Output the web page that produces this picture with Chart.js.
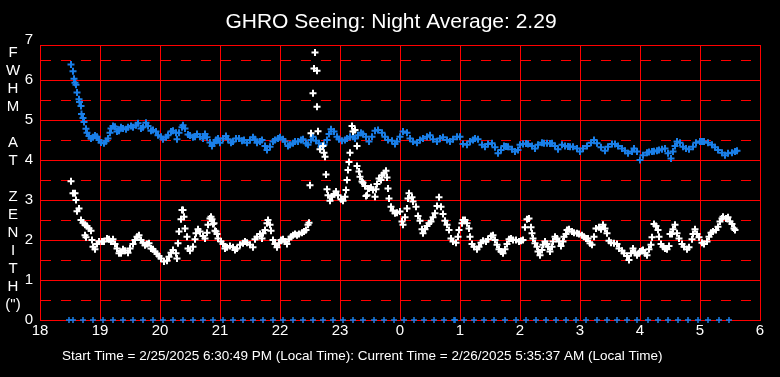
<!DOCTYPE html>
<html>
<head>
<meta charset="utf-8">
<script src="https://cdn.jsdelivr.net/npm/chart.js@4.4.1/dist/chart.umd.min.js"></script>
<style>
  html, body { margin: 0; padding: 0; background: #000; }
  #wrap { width: 780px; height: 377px; }
</style>
</head>
<body>
<div id="wrap"><canvas id="c" width="780" height="377"></canvas></div>
<script>
// ---- DATA (time in minutes after 18:00 local, FWHM in arcsec) ----
const chartTitle = 'GHRO Seeing: Night Average: 2.29';
const footerText = 'Start Time = 2/25/2025 6:30:49 PM (Local Time): Current Time = 2/26/2025 5:35:37 AM (Local Time)';
const yTitleLines = ['F', 'W', 'H', 'M', '', 'A', 'T', '', 'Z', 'E', 'N', 'I', 'T', 'H', '(")'];
const xTickMinutes = [0, 60, 120, 180, 240, 300, 360, 420, 480, 540, 600, 660, 720];
const yTickValues = [0, 1, 2, 3, 4, 5, 6];
const yHalfLines = [0.5, 1.5, 2.5, 3.5, 4.5, 5.5, 6.5];

const blueSeeing = [
[31,6.39],[33,6.22],[34,6.03],[35,5.93],[36,5.88],[37,5.69],[39,5.52],[39.5,5.45],[41,5.35],[41.5,5.15],[43,5.05],[44,4.95],[46,4.78],[47,4.68],[49,4.6],[51,4.54],[53,4.57],[55,4.61],[57,4.58],[59,4.5],[61,4.44],[64,4.42],[66,4.47],[68,4.54],[70,4.68],[71,4.79],[73,4.85],[75,4.83],[77,4.71],[79,4.73],[81,4.82],[83,4.79],[86,4.77],[88,4.82],[91,4.85],[93,4.82],[96,4.87],[98,4.92],[101,4.79],[103,4.82],[106,4.93],[108,4.85],[111,4.73],[113,4.75],[116,4.71],[118,4.62],[121,4.58],[123,4.52],[126,4.57],[128,4.62],[131,4.71],[133,4.73],[136,4.68],[137,4.52],[139,4.68],[142,4.82],[143,4.87],[145,4.79],[148,4.64],[150,4.61],[153,4.57],[155,4.58],[157,4.65],[160,4.58],[163,4.54],[165,4.65],[167,4.57],[170,4.44],[172,4.35],[174,4.42],[176,4.5],[178,4.54],[180,4.43],[183,4.54],[186,4.6],[188,4.52],[191,4.43],[193,4.46],[196,4.54],[199,4.54],[202,4.48],[204,4.5],[207,4.43],[210,4.5],[213,4.57],[215,4.52],[217,4.43],[220,4.46],[222,4.5],[225,4.35],[227,4.25],[230,4.33],[233,4.46],[235,4.5],[238,4.54],[240,4.57],[243,4.52],[245,4.46],[248,4.35],[250,4.38],[253,4.42],[255,4.46],[258,4.46],[261,4.5],[263,4.52],[266,4.42],[268,4.38],[271,4.5],[273,4.58],[276,4.48],[279,4.42],[281,4.33],[284,4.38],[287,4.5],[289,4.65],[291,4.77],[294,4.71],[297,4.58],[299,4.52],[302,4.48],[305,4.5],[307,4.54],[310,4.58],[313,4.58],[315,4.54],[318,4.62],[321,4.68],[323,4.65],[326,4.58],[329,4.46],[332,4.58],[335,4.73],[338,4.75],[342,4.68],[345,4.58],[348,4.5],[352,4.48],[355,4.4],[357,4.46],[360,4.58],[363,4.71],[367,4.68],[370,4.54],[373,4.46],[377,4.43],[380,4.5],[383,4.54],[387,4.58],[390,4.62],[393,4.52],[397,4.46],[400,4.54],[403,4.57],[407,4.5],[410,4.46],[413,4.52],[417,4.58],[420,4.58],[423,4.4],[427,4.38],[430,4.46],[433,4.5],[435,4.54],[438,4.52],[442,4.38],[445,4.33],[448,4.4],[452,4.42],[455,4.32],[458,4.17],[461,4.25],[464,4.35],[466,4.34],[468,4.33],[472,4.27],[475,4.21],[478,4.25],[480,4.38],[483,4.4],[486,4.41],[488,4.4],[492,4.35],[495,4.29],[498,4.38],[502,4.43],[504,4.42],[507,4.42],[510,4.41],[512,4.42],[515,4.35],[518,4.27],[522,4.38],[525,4.35],[528,4.34],[530,4.33],[533,4.33],[537,4.29],[540,4.21],[543,4.29],[547,4.35],[551,4.43],[554,4.5],[557,4.42],[561,4.32],[565,4.23],[568,4.33],[572,4.4],[575,4.4],[578,4.35],[582,4.29],[585,4.23],[588,4.17],[592,4.21],[594,4.29],[597,4.21],[600,4.0],[603,4.12],[607,4.18],[609,4.2],[612,4.21],[614,4.22],[617,4.23],[619,4.25],[622,4.27],[625,4.29],[628,4.17],[631,4.04],[633,4.21],[635,4.35],[637,4.46],[640,4.43],[643,4.33],[646,4.29],[649,4.27],[653,4.33],[656,4.43],[660,4.46],[662,4.46],[664,4.46],[668,4.43],[672,4.38],[675,4.32],[678,4.25],[682,4.18],[685,4.12],[688,4.17],[692,4.18],[695,4.21],[697,4.23]
];

const whiteSeeing = [
[31,3.47],[33,3.17],[35,3.17],[36,3.0],[37,2.72],[39,2.79],[41,2.5],[43,2.43],[45,2.38],[45,2.12],[46,2.07],[47,2.35],[49,2.29],[51,2.23],[52,2.0],[53,1.83],[55,1.77],[57,1.9],[59,1.96],[62,1.96],[64,1.96],[67,2.04],[69,2.02],[71,1.96],[73,2.02],[75,1.9],[77,1.79],[79,1.67],[81,1.67],[83,1.77],[85,1.73],[88,1.68],[90,1.79],[93,1.9],[95,2.0],[97,2.08],[99,2.12],[101,2.0],[103,1.93],[105,1.87],[107,1.9],[109,1.92],[111,1.79],[113,1.77],[115,1.71],[117,1.65],[119,1.6],[121,1.54],[124,1.46],[127,1.48],[129,1.58],[131,1.68],[133,1.75],[136,1.67],[137,1.54],[138,1.92],[139,2.21],[141,2.52],[142,2.75],[143,2.75],[144,2.58],[145,2.29],[147,2.08],[148,1.79],[150,1.73],[153,1.83],[155,2.02],[156,2.17],[158,2.27],[160,2.21],[163,2.1],[165,2.04],[167,2.18],[168,2.38],[170,2.54],[171,2.58],[172,2.52],[173,2.4],[174,2.42],[175,2.23],[176,2.21],[177,2.15],[178,2.04],[181,1.96],[183,1.9],[185,1.79],[187,1.82],[190,1.85],[193,1.82],[195,1.75],[197,1.79],[200,1.88],[203,1.92],[205,1.96],[207,1.93],[210,1.88],[213,1.82],[215,2.02],[217,2.08],[220,2.15],[222,2.04],[223,2.17],[225,2.25],[227,2.42],[228,2.5],[230,2.38],[231,2.23],[233,2.0],[235,1.9],[237,1.82],[239,1.92],[241,2.0],[243,2.02],[245,1.96],[247,1.9],[249,2.02],[251,2.08],[253,2.12],[255,2.15],[257,2.12],[259,2.15],[262,2.18],[264,2.21],[266,2.25],[268,2.38],[269,2.43],
[270,3.37],[271,4.67],[273,5.67],[274,6.29],[275,6.69],[277,6.23],[277,5.33],[278,4.72],[280,4.27],[283,4.35],[284,4.18],[285,4.08],[286,3.64],[287,3.27],[288,3.12],[290,2.98],[292,3.08],[294,3.15],[296,3.21],[298,3.12],[301,3.02],[303,2.98],[305,3.08],[306,3.25],[307,3.5],[308,3.75],[309,3.95],[310,4.18],[312,4.85],[313,4.71],[315,4.75],[317,4.35],[317,3.85],[319,3.71],[320,3.58],[322,3.46],[323,3.43],[325,3.35],[326,3.1],[327,3.12],[328,3.29],[329,3.29],[331,3.32],[333,3.25],[335,3.08],[336,3.27],[337,3.4],[339,3.54],[341,3.5],[342,3.62],[344,3.67],[346,3.73],[347,3.56],[348,3.29],[349,3.04],[351,2.83],[353,2.73],[355,2.67],[357,2.68],[360,2.71],[362,2.46],[363,2.38],[365,2.57],[367,2.79],[368,3.04],[369,3.17],[372,3.07],[373,2.96],[376,2.83],[378,2.6],[380,2.48],[382,2.27],[383,2.17],[385,2.27],[387,2.35],[389,2.42],[391,2.46],[393,2.57],[395,2.67],[397,2.85],[399,3.07],[401,2.83],[403,2.65],[405,2.48],[407,2.38],[409,2.25],[411,2.04],[413,1.96],[416,1.93],[418,2.08],[419,2.25],[422,2.42],[423,2.5],[425,2.5],[427,2.42],[429,2.29],[430,2.08],[432,1.9],[434,1.83],[437,1.77],[439,1.83],[441,1.93],[443,1.98],[446,1.96],[448,2.02],[451,2.1],[453,2.12],[455,2.0],[457,1.88],[459,1.77],[461,1.71],[463,1.67],[465,1.77],[467,1.9],[469,2.02],[471,2.04],[473,2.0],[476,2.0],[479,1.96],[481,1.98],[483,2.0],[485,2.32],[487,2.52],[489,2.54],[491,2.32],[492,2.17],[493,2.04],[495,1.92],[497,1.83],[498,1.71],[500,1.62],[502,1.75],[503,1.88],[505,1.96],[507,1.9],[508,1.83],[510,1.71],[512,1.83],[513,1.96],[515,2.08],[517,2.04],[519,1.96],[521,1.85],[523,1.96],[524,2.08],[526,2.15],[527,2.25],[529,2.27],[532,2.21],[534,2.18],[537,2.17],[539,2.15],[542,2.12],[544,2.08],[546,2.04],[548,2.04],[550,1.92],[552,1.88],[554,2.08],[556,2.29],[559,2.32],[561,2.27],[563,2.38],[565,2.29],[567,2.17],[569,1.98],[571,1.93],[574,1.92],[577,1.9],[579,1.79],[582,1.73],[584,1.67],[587,1.6],[589,1.5],[591,1.67],[593,1.79],[595,1.68],[597,1.62],[599,1.67],[600,1.71],[602,1.73],[603,1.75],[605,1.67],[607,1.62],[609,1.77],[611,1.88],[612,2.07],[614,2.4],[616,2.35],[618,2.25],[619,2.08],[621,1.9],[623,1.83],[625,1.79],[627,1.77],[629,1.85],[630,2.15],[632,2.15],[633,2.27],[635,2.38],[637,2.17],[639,2.04],[642,1.9],[644,1.83],[647,1.77],[649,1.82],[652,2.02],[653,2.15],[655,2.27],[657,2.15],[659,2.07],[662,1.93],[664,1.9],[667,1.96],[669,2.08],[671,2.18],[673,2.21],[676,2.25],[678,2.33],[680,2.46],[682,2.54],[683,2.58],[686,2.54],[688,2.57],[690,2.46],[692,2.4],[694,2.29],[695,2.25]
];

const zeroMarkMinutes = [29,33,43,53,63,73,83,93,103,113,123,133,143,153,163,173,183,193,203,213,223,233,243,253,263,273,283,293,303,313,323,334,344,354,364,374,384,394,404,414,415,424,434,444,454,465,476,486,496,506,516,526,536,546,557,567,577,587,597,608,618,628,638,648,658,668,679,689];

// ---- STYLE ----
const FONT = '"Liberation Sans", Arial, sans-serif';
const RED = '#ff0000';
const BLUE = '#1a7fe8';

const textPlugin = {
  id: 'texts',
  beforeDraw(chart) {
    const c = chart.ctx;
    c.save();
    c.fillStyle = '#000';
    c.fillRect(0, 0, chart.width, chart.height);
    c.restore();
  },
  beforeDatasetsDraw(chart) {
    const c = chart.ctx, a = chart.chartArea, ys = chart.scales.y;
    c.save();
    c.strokeStyle = RED;
    c.lineWidth = 1;
    c.setLineDash([10, 10]);
    yHalfLines.forEach(v => {
      const y = Math.round(ys.getPixelForValue(v)) + 0.5;
      c.beginPath();
      c.moveTo(a.left + 1, y);
      c.lineTo(a.right, y);
      c.stroke();
    });
    c.restore();
  },
  afterDraw(chart) {
    const c = chart.ctx, ys = chart.scales.y;
    c.save();
    c.fillStyle = '#fff';
    // title
    c.font = '21px ' + FONT;
    c.textAlign = 'center';
    c.textBaseline = 'alphabetic';
    c.fillText(chartTitle, 391, 28);
    // vertical y title
    c.font = '15px ' + FONT;
    c.textBaseline = 'middle';
    yTitleLines.forEach((s, i) => {
      if (s) c.fillText(s, 13, 53 + i * 18);
    });
    // top tick label 7
    c.textAlign = 'right';
    c.fillText('7', 33, ys.getPixelForValue(7));
    // footer
    c.font = '13.5px ' + FONT;
    c.textAlign = 'left';
    c.textBaseline = 'alphabetic';
    c.fillText(footerText, 62, 360);
    c.restore();
  }
};

const crossStyle = (color) => ({
  pointStyle: 'cross',
  pointRadius: 3.5,
  pointHoverRadius: 3.5,
  borderColor: color,
  backgroundColor: color,
  pointBorderWidth: 2,
  borderWidth: 2,
  showLine: false
});

new Chart(document.getElementById('c'), {
  type: 'scatter',
  data: {
    datasets: [
      Object.assign({ label: 'white', data: whiteSeeing.map(p => ({ x: p[0], y: p[1] })) }, crossStyle('#ffffff')),
      Object.assign({ label: 'blue', data: blueSeeing.map(p => ({ x: p[0], y: p[1] })) }, crossStyle(BLUE)),
      Object.assign({ label: 'zero', data: zeroMarkMinutes.map(m => ({ x: m, y: 0 })), clip: false }, crossStyle(BLUE), { pointBorderWidth: 1.5, pointRadius: 3 })
    ]
  },
  options: {
    responsive: false,
    animation: false,
    devicePixelRatio: 1,
    events: [],
    layout: { padding: { top: 45, right: 20, left: 0, bottom: 0 } },
    plugins: { legend: { display: false }, tooltip: { enabled: false }, title: { display: false } },
    scales: {
      x: {
        type: 'linear', min: 0, max: 720,
        afterFit: s => { s.height = 57; },
        afterBuildTicks: s => { s.ticks = xTickMinutes.map(v => ({ value: v })); },
        ticks: {
          color: '#fff', font: { family: FONT, size: 15 }, padding: 2,
          maxRotation: 0, autoSkip: false,
          callback: v => String((18 + v / 60) % 24)
        },
        grid: { color: RED, lineWidth: 1, drawTicks: false },
        border: { color: RED, width: 1 }
      },
      y: {
        type: 'linear', min: 0, max: 6.875,
        afterFit: s => { s.width = 40; },
        afterBuildTicks: s => { s.ticks = yTickValues.concat([6.875]).map(v => ({ value: v })); },
        ticks: {
          color: '#fff', font: { family: FONT, size: 15 }, padding: 7,
          autoSkip: false,
          callback: v => (Number.isInteger(v) ? String(v) : '')
        },
        grid: { color: RED, lineWidth: 1, drawTicks: false },
        border: { color: RED, width: 1 }
      }
    }
  },
  plugins: [textPlugin]
});
</script>
</body>
</html>
